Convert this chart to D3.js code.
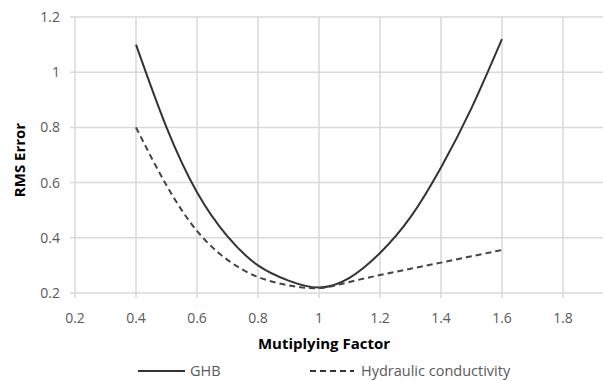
<!DOCTYPE html>
<html>
<head>
<meta charset="utf-8">
<script src="https://cdn.jsdelivr.net/npm/d3@7"></script>
<style>
  body { margin: 0; background: #fff; }
  svg { display: block; font-family: "Open Sans", "Noto Sans", sans-serif; }
</style>
</head>
<body>
<div id="main"></div>
<script>
const width = 603, height = 381;
const margin = {left: 75, top: 17, right: -21, bottom: 88};

// values
const factors = [0.4, 0.5, 0.6, 0.7, 0.8, 0.9, 1.0, 1.1, 1.2, 1.3, 1.4, 1.5, 1.6];
const ghb = [1.10, 0.80, 0.565, 0.405, 0.30, 0.245, 0.22, 0.255, 0.345, 0.475, 0.655, 0.87, 1.12];
const hydraulic = [0.80, 0.59, 0.425, 0.32, 0.258, 0.228, 0.218, 0.24, 0.265, 0.288, 0.31, 0.333, 0.356];
const xTicks = [0.2, 0.4, 0.6, 0.8, 1, 1.2, 1.4, 1.6, 1.8, 2];
const yTicks = [0.2, 0.4, 0.6, 0.8, 1, 1.2];
const seriesNames = ["GHB", "Hydraulic conductivity"];

let svg = d3.select("#main").append("svg")
    .attr("width", width)
    .attr("height", height);

let scaleX = d3.scaleLinear().domain([0.2, 2]).range([margin.left, width - margin.right]);
let scaleY = d3.scaleLinear().domain([0.2, 1.2]).range([height - margin.bottom, margin.top]);

// grid
svg.append("g")
    .selectAll("line")
    .data(yTicks)
    .join("line")
    .attr("x1", margin.left - 5)
    .attr("x2", width - margin.right)
    .attr("y1", d => scaleY(d))
    .attr("y2", d => scaleY(d))
    .attr("stroke", "#d9d9d9")
    .attr("stroke-width", 1.5);

svg.append("g")
    .selectAll("line")
    .data(xTicks)
    .join("line")
    .attr("x1", d => scaleX(d))
    .attr("x2", d => scaleX(d))
    .attr("y1", scaleY(1.2))
    .attr("y2", scaleY(0.2) + 5)
    .attr("stroke", "#d9d9d9")
    .attr("stroke-width", 1.5);

// tick labels
svg.append("g")
    .selectAll("text")
    .data(yTicks)
    .join("text")
    .attr("x", 60)
    .attr("y", d => scaleY(d))
    .attr("dy", "0.35em")
    .attr("text-anchor", "end")
    .attr("font-size", 14)
    .attr("fill", "#595959")
    .text(d => d3.format("")(d));

svg.append("g")
    .selectAll("text")
    .data(xTicks.slice(0, -1))
    .join("text")
    .attr("x", d => scaleX(d))
    .attr("y", 318)
    .attr("dy", "0.35em")
    .attr("text-anchor", "middle")
    .attr("font-size", 14)
    .attr("fill", "#595959")
    .text(d => d3.format("")(d));

// axis titles
svg.append("text")
    .attr("x", 324)
    .attr("y", 344)
    .attr("dy", "0.35em")
    .attr("text-anchor", "middle")
    .attr("font-size", 15)
    .attr("font-weight", "bold")
    .attr("fill", "#000")
    .text("Mutiplying Factor");

svg.append("text")
    .attr("transform", "translate(20,160) rotate(-90)")
    .attr("dy", "0.35em")
    .attr("text-anchor", "middle")
    .attr("font-size", 15)
    .attr("font-weight", "bold")
    .attr("fill", "#000")
    .text("RMS Error");

// lines
const line = d3.line()
    .curve(d3.curveNatural)
    .x((d, i) => scaleX(factors[i]))
    .y(d => scaleY(d));

svg.append("path")
    .datum(ghb)
    .attr("fill", "none")
    .attr("stroke", "#333")
    .attr("stroke-width", 2)
    .attr("d", line);

svg.append("path")
    .datum(hydraulic)
    .attr("fill", "none")
    .attr("stroke", "#444")
    .attr("stroke-width", 2)
    .attr("stroke-dasharray", "6,4")
    .attr("d", line);

// legend
const legend = [
    {x1: 138, x2: 185, tx: 190, dash: null},
    {x1: 310, x2: 354, tx: 361, dash: "6,4"}
];
legend.forEach((l, i) => {
    svg.append("line")
        .attr("x1", l.x1).attr("x2", l.x2)
        .attr("y1", 371).attr("y2", 371)
        .attr("stroke", "#333")
        .attr("stroke-width", 2)
        .attr("stroke-dasharray", l.dash);
    svg.append("text")
        .attr("x", l.tx)
        .attr("y", 371)
        .attr("dy", "0.35em")
        .attr("font-size", 14.5)
        .attr("fill", "#595959")
        .text(seriesNames[i]);
});
</script>
</body>
</html>
